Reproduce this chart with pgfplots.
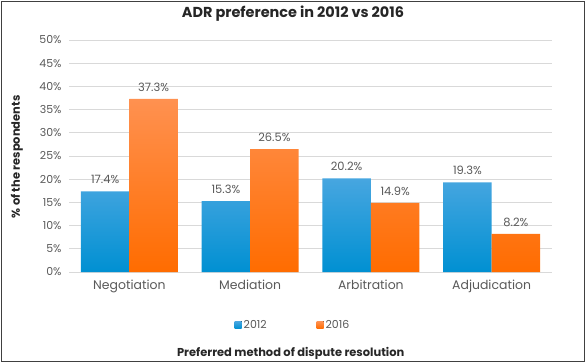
\documentclass[border=0pt]{standalone}
\usepackage{pgfplots}
\pgfplotsset{compat=1.18}
\usepackage{fontspec}
\setmainfont{Poppins}

\definecolor{blueTop}{HTML}{47A6E0}
\definecolor{blueBot}{HTML}{0090D2}
\definecolor{orangeTop}{HTML}{FF9150}
\definecolor{orangeBot}{HTML}{FF6C00}
\definecolor{gridgray}{HTML}{D9D9D9}
\definecolor{labelgray}{HTML}{595959}
\definecolor{textdark}{HTML}{262626}

\begin{document}
\begin{tikzpicture}[x=1bp,y=1bp]
\useasboundingbox (-69,-90) rectangle (519,272);
\begin{axis}[
  width=483bp, height=232bp, scale only axis,
  /pgf/number format/assume math mode=true,
  ybar=0pt, bar width=48.5bp,
  xmin=-0.5, xmax=3.5, ymin=0, ymax=50,
  xtick={0,1,2,3},
  xticklabels={Negotiation,Mediation,Arbitration,Adjudication},
  ytick={0,5,...,50},
  yticklabel={\pgfmathprintnumber{\tick}\%},
  ymajorgrids,
  grid style={color=gridgray, line width=0.8bp},
  axis line style={draw=none},
  major tick length=0pt,
  yticklabel style={font=\fontsize{11}{13}\selectfont, text=labelgray, xshift=-4bp},
  xticklabel style={font=\fontsize{12.5}{14}\selectfont, text=labelgray, yshift=-4bp},
  nodes near coords={\pgfmathprintnumber[fixed,precision=1,fixed zerofill]{\pgfplotspointmeta}\%},
  every node near coord/.append style={font=\fontsize{11.5}{13}\selectfont, text=labelgray, yshift=4bp},
  xlabel={Preferred method of dispute resolution},
  xlabel style={at={(axis description cs:0.459,-0.349)}, anchor=center,
    font=\fontsize{11.5}{13}\selectfont\bfseries, text=textdark},
  ylabel={\% of the respondents},
  ylabel style={at={(axis description cs:-0.1077,0.496)}, anchor=center,
    font=\fontsize{11.5}{13}\selectfont\bfseries, text=textdark},
  legend columns=2,
  legend style={draw=none, at={(0.4638,-0.2284)}, anchor=center,
    font=\fontsize{11}{13}\selectfont, text=labelgray,
    /tikz/every even column/.append style={column sep=48bp}},
  legend image code/.code={\fill[#1, draw=none] (0bp,-3.5bp) rectangle (7bp,3.5bp);},
]
\addplot[draw=none, top color=blueTop, bottom color=blueBot]
  coordinates {(0,17.4) (1,15.3) (2,20.2) (3,19.3)};
\addplot[draw=none, top color=orangeTop, bottom color=orangeBot]
  coordinates {(0,37.3) (1,26.5) (2,14.9) (3,8.2)};
\legend{2012,2016}
\end{axis}
\node[font=\fontsize{14.5}{16}\selectfont\bfseries, text=textdark] at (224,258) {ADR preference in 2012 vs 2016};
\draw[black!75, line width=0.8bp] (-68,-89) rectangle (515,271);
\end{tikzpicture}
\end{document}
